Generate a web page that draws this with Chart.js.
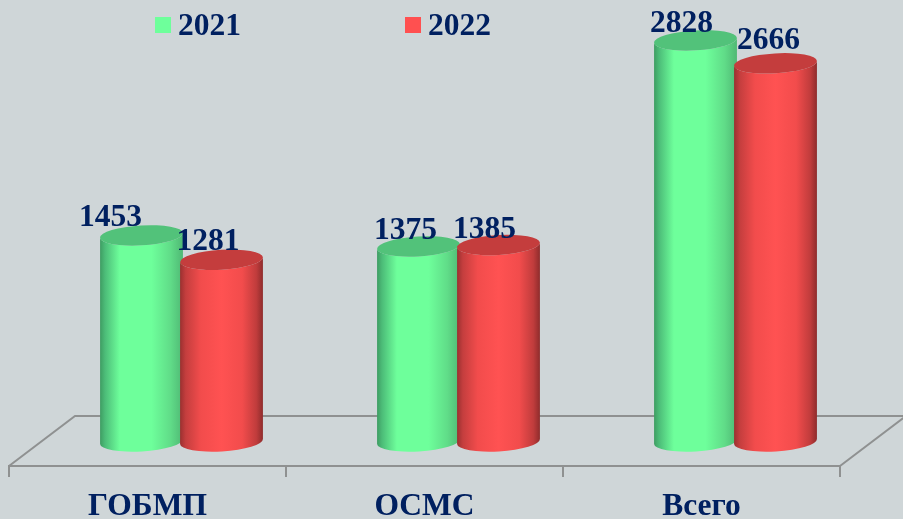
<!DOCTYPE html>
<html><head><meta charset="utf-8">
<style>html,body{margin:0;padding:0;background:#cfd6d8;overflow:hidden}canvas{display:block;filter:blur(0.4px)}</style>
<script src="https://cdn.jsdelivr.net/npm/chart.js@4"></script>
</head><body><canvas id="c" width="903" height="519"></canvas>
<script>
const categories = ['ГОБМП','ОСМС','Всего'];
const seriesNames = ['2021','2022'];
const values2021 = [1453,1375,2828];
const values2022 = [1281,1385,2666];

const NAVY='#002060', FONT='"Liberation Serif","Times New Roman",serif';
const looks=[
 {main:'#6EFF9B',cap:'#52C27A',stops:[[0,'#3E9C62'],[.06,'#4CBC78'],[.24,'#6EFF9B'],[.62,'#6EFF9B'],[.85,'#60DC88'],[1,'#4FB874']]},
 {main:'#FF5050',cap:'#C43D3D',stops:[[0,'#9A3030'],[.07,'#C43E3E'],[.25,'#F24C4C'],[.5,'#FF5252'],[.75,'#F24C4C'],[.92,'#C03C3C'],[1,'#8E2C2C']]}
];
const legendX=[155,405];
const labelShift=[[[-31,-9],[-13,-7],[-14,-8.5]],[[-13.5,-10],[-14,-7],[-7,-14]]];
const SHIFT=34, DEPTH_X=66, DEPTH_Y=50, TILT=-3.4*Math.PI/180, FLAT=0.24;

const scene={
 id:'scene',
 beforeDatasetsDraw(chart){
  const {ctx,chartArea:a}=chart;
  ctx.save();
  ctx.strokeStyle='#8f9191';ctx.lineWidth=2;
  ctx.beginPath();
  ctx.moveTo(a.left,a.bottom);ctx.lineTo(a.left+DEPTH_X,a.bottom-DEPTH_Y);
  ctx.lineTo(a.right+DEPTH_X,a.bottom-DEPTH_Y);ctx.lineTo(a.right,a.bottom);
  ctx.stroke();
  // cylinders, earlier series first so the later one overlaps it
  chart.data.datasets.forEach((ds,i)=>{
   const look=looks[i];
   chart.getDatasetMeta(i).data.forEach(el=>{
    const cx=el.x+SHIFT,w=el.width/2,b=w*FLAT,top=el.y,base=el.base;
    const ex=w*Math.cos(TILT),ey=w*Math.sin(TILT);
    const g=ctx.createLinearGradient(cx-w,0,cx+w,0);
    look.stops.forEach(s=>g.addColorStop(s[0],s[1]));
    ctx.fillStyle=g;
    ctx.beginPath();
    ctx.moveTo(cx-ex,top-ey);
    ctx.lineTo(cx-ex,base-ey);
    ctx.ellipse(cx,base,w,b,TILT,Math.PI,0,true);
    ctx.lineTo(cx+ex,top+ey);
    ctx.ellipse(cx,top,w,b,TILT,0,Math.PI,false);
    ctx.closePath();ctx.fill();
    ctx.fillStyle=look.cap;
    ctx.beginPath();ctx.ellipse(cx,top,w,b,TILT,0,Math.PI*2);ctx.fill();
   });
  });
  ctx.restore();
 },
 beforeDatasetDraw(){return false;},
 afterDatasetsDraw(chart){
  const {ctx}=chart;
  ctx.save();
  ctx.font='bold 31.5px '+FONT;ctx.fillStyle=NAVY;
  ctx.textAlign='center';ctx.textBaseline='alphabetic';
  chart.data.datasets.forEach((ds,i)=>{
   chart.getDatasetMeta(i).data.forEach((el,j)=>{
    const s=labelShift[i][j];
    ctx.fillText(String(ds.data[j]),el.x+SHIFT+s[0],el.y+s[1]);
   });
  });
  ctx.textAlign='left';ctx.textBaseline='middle';
  seriesNames.forEach((n,i)=>{
   ctx.fillStyle=looks[i].main;ctx.fillRect(legendX[i],17,16,16);
   ctx.fillStyle=NAVY;ctx.fillText(n,legendX[i]+23,27);
  });
  ctx.restore();
 }
};

new Chart(document.getElementById('c'),{
 type:'bar',
 data:{labels:categories,datasets:[
  {label:seriesNames[0],data:values2021,backgroundColor:looks[0].main},
  {label:seriesNames[1],data:values2022,backgroundColor:looks[1].main}
 ]},
 options:{
  responsive:false,animation:false,
  layout:{padding:{left:9,right:63,top:16,bottom:0}},
  plugins:{legend:{display:false},tooltip:{enabled:false}},
  datasets:{bar:{categoryPercentage:0.5776,barPercentage:1.0375}},
  scales:{
   x:{
    afterFit(s){s.height=53;},
    grid:{offset:true,drawOnChartArea:false,drawTicks:true,tickLength:11,color:'#8f9191',lineWidth:2},
    border:{color:'#8f9191',width:2},
    ticks:{color:NAVY,padding:11,maxRotation:0,autoSkip:false,font:{family:FONT,weight:'bold',size:31.5}}
   },
   y:{display:false,min:-173,max:3000}
  }
 },
 plugins:[scene,{id:'bg',beforeDraw(c){c.ctx.save();c.ctx.fillStyle='#cfd6d8';c.ctx.fillRect(0,0,c.width,c.height);c.ctx.restore();}}]
});
</script></body></html>
